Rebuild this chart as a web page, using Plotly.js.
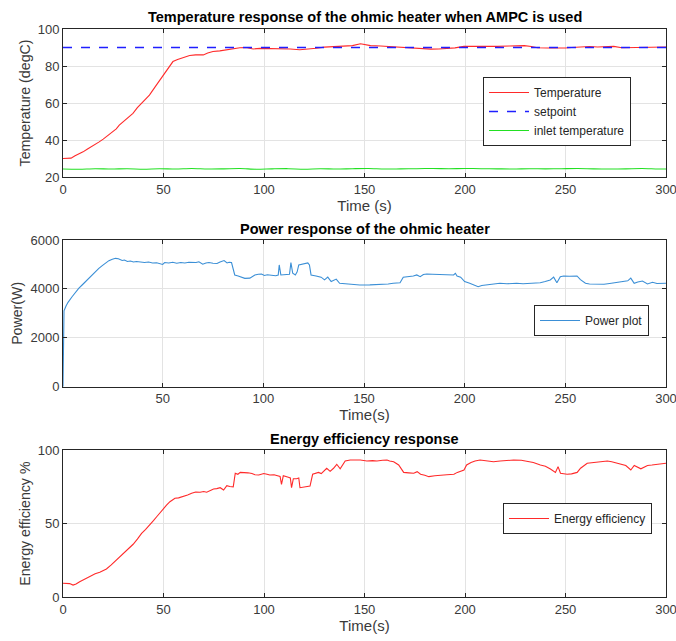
<!DOCTYPE html>
<html>
<head>
<meta charset="utf-8">
<script src="https://cdn.plot.ly/plotly-3.0.1.min.js"></script>
<style>
html,body{margin:0;padding:0;background:#fff;}
#chart{width:676px;height:641px;}
</style>
</head>
<body>
<div id="chart"></div>
<script>
// ---------- Data ----------
// Top panel: temperature response
const temp_t = [0,2,4,6,8,10,12,14,16,18,20,22,24,26.5,28,30,32,34.8,37,40,43,46,48,50,52,54.7,57,60,63,66,69.8,72,74.6,78,81,84.5,88,91,94.6,98,101,105,109.5,113,117.8,121,126,130,134,140,144,148,151,153,158,162,166,172,178,183,187,191,195,199.5,205,210,216,222,229.5,233,236,241,246,250,253,257.5,262,266,270,274,278,283,287,291,296,300];
const temp_v = [30,30,30.2,31.5,32.5,33.6,35,36.2,37.5,39,40.5,42.3,44,46,48,50,51.5,54.4,57.5,61,64.3,69,72,75.2,78,82.4,83.5,84.5,85.7,86,86,87,87.8,88.2,88.8,89.4,89.9,90,89.2,89.5,89.5,89.3,89.1,89.2,88.8,89,89.6,90.2,90.4,90.6,91,92,91.3,91,90.8,90.5,90.2,89.8,89.5,89.1,89.2,89.3,89.8,90.6,90.5,90.6,90.6,90.8,91,90.5,89.9,89.7,89.5,89.7,90,90.3,90.5,90.3,90.4,90.6,89.9,89.9,90,90.1,90.2,90.3];
const setpoint_t = [0,300];
const setpoint_v = [90,90];
const inlet_t = [0,8,16,24,32,40,48,56,64,72,80,88,96,104,112,120,128,136,144,152,160,168,176,184,192,200,208,216,224,232,240,248,256,264,272,280,288,296,300];
const inlet_v = [24.3,24.2,24.5,24.3,24.5,24.2,24.5,24.3,24.6,24.3,24.4,24.6,24.2,24.4,24.5,24.2,24.5,24.3,24.5,24.6,24.3,24.4,24.5,24.6,24.5,24.6,24.5,24.4,24.3,24.5,24.4,24.5,24.6,24.4,24.3,24.4,24.6,24.3,24.3];

// Middle panel: power
const power_t = [0.5,1,2,3,5,7,8.3,10,12,13.3,15,17,18.3,20,22,23.3,25,26.6,28,29.9,31,32.5,34,35.5,37,39,41,43,45,47,48.5,50,51,53,55,57,59,61,63,65,66.6,68,69.9,71.5,73,75,77,78.5,80.5,82,83,84.2,85,85.8,87.5,89,90.8,93.3,95.8,97.5,99.1,100.5,102,104,106.2,107.4,107.9,108.7,111.2,113,113.7,114.6,115.9,116.8,117.6,119.6,121,122.1,122.9,123.7,126.2,128.7,130.4,132,133.7,136.2,137.9,141.2,145,147.9,152.9,156,159.5,162,164.5,167.9,169.5,172,174.5,176.2,177.9,179.5,181.2,184,186.2,189,191.2,194.5,195.4,196.2,198,200,202.5,204.5,206.7,208.5,210.8,214,217.5,221,225.8,229,232.5,235,237.5,240,242.5,244.2,245.8,247.5,249.2,252,255.8,257.5,260,262,264.2,267,269.2,272,274.2,277,279.2,281,282.5,284.2,286,288.3,290.8,293.3,295.5,297.5,300];
const power_w = [0,3100,3300,3450,3680,3900,4025,4160,4330,4430,4570,4720,4840,4950,5080,5155,5210,5250,5230,5160,5180,5120,5140,5100,5120,5090,5080,5100,5060,5070,5040,5000,5080,5060,5090,5050,5080,5060,5090,5070,5080,5110,5010,5060,5080,5050,5040,5100,5160,5060,5090,5080,4800,4570,4530,4480,4430,4440,4570,4600,4610,4550,4580,4560,4540,4570,4980,4570,4570,4600,5075,4640,4570,4700,4980,5030,5040,5060,4980,4570,4530,4480,4370,4480,4300,4400,4230,4200,4170,4160,4165,4180,4170,4200,4230,4250,4480,4500,4530,4570,4500,4590,4610,4600,4590,4580,4570,4570,4640,4530,4480,4300,4230,4170,4090,4140,4160,4180,4230,4210,4230,4210,4230,4240,4250,4300,4365,4480,4250,4500,4530,4520,4530,4380,4230,4200,4190,4195,4190,4220,4250,4260,4300,4330,4440,4230,4280,4320,4200,4270,4220,4230,4230];

// Bottom panel: energy efficiency
const eff_t = [0,3.3,5,6.5,8.3,11,13.3,16,18.3,20,21.6,24,26.6,29,31.6,33,34.9,37,39.1,41,43.2,45,46.6,48.3,49.9,51.5,53.2,55.7,57.5,59.9,62,64,66,68.2,70,71.5,73,74.9,76.5,78.2,79.9,81.5,83,84.7,85.7,87,88.2,90.7,92,94,95.5,97.4,99.9,101.5,102.9,105,107.1,108,108.7,109.6,112.1,113.1,113.7,114.6,116.2,117.3,117.9,121.2,122.9,124.2,127.1,128.5,129.6,131.2,132.9,134.6,136.2,137.9,140.4,142.9,147.9,151.2,154,156.2,159,161.2,162.5,164.5,167,169.5,172,174.5,176.2,177.9,180,182,185,187.9,191,194.5,196.2,199.5,200.8,203,205,207.5,211,214.2,217.5,221,224.2,228,230.8,234,237.5,240,242.5,245,246.3,247.5,250.8,253,255.8,257.5,260.8,264,267.5,270.8,273,275.8,278,280,282.5,284.2,287.5,289,290.8,293,295.8,298,300];
const eff_v = [9.5,9.3,8.3,9,10.6,12.5,14.5,16,17,18,19.2,22,25.3,28.5,31.4,33.5,36,39.5,43.4,46,49,52,54.7,57.5,60.4,62.5,64.9,67.2,67.5,68.3,69.5,70.6,71.5,71.3,71.8,71.3,72.5,73.5,73.8,74.4,72.8,75.8,75.2,75,84.2,83.5,84.8,84.8,84.5,84,83.2,83,84,83.5,83,83.2,82.5,82,76.7,82.5,81.5,81,74.4,80.5,80.5,81,74.4,75,75.5,83.5,84.8,84,85.7,87.6,85.5,87.6,90.3,87.2,92.5,93.2,93.2,92.5,92.8,92.5,93,93.2,92.5,92,89.8,84.8,84.5,84.2,85.3,83.5,82.8,81.9,82.5,83,83.2,83.5,84.8,86.4,89.8,91.5,92.5,93.2,92.5,92,92.5,92.8,93.2,93,92.5,91.5,89.8,89,87.1,84.8,88.7,84.2,83.5,83.8,84.8,87.6,91,91.5,92,92.5,92,91,90.5,89.5,86.4,89.5,87.2,88.5,89.5,89.8,90.3,90.6,91];

// Tick labels
const x_ticks_top = [0,50,100,150,200,250,300];
const x_ticks_mid = [50,100,150,200,250,300];
const y_ticks_temp = [20,40,60,80,100];
const y_ticks_power = [0,2000,4000,6000];
const y_ticks_eff = [0,50,100];

// ---------- Styling ----------
const FONT = '"Liberation Sans", Arial, Helvetica, sans-serif';
const AX = '#262626';
const GRID = '#e3e3e3';
const W = 676, H = 641;
const xdom = [63/W, 666/W];
function ydom(top, bottom){ return [(H-bottom)/H, (H-top)/H]; }

function axisBase(extra){
  return Object.assign({
    showline: true, mirror: 'ticks', linecolor: AX, linewidth: 1,
    ticks: 'inside', ticklen: 4, tickcolor: AX, tickwidth: 1,
    showgrid: true, gridcolor: GRID, gridwidth: 1, zeroline: false,
    tickfont: {family: FONT, size: 13, color: '#3a3a3a'},
    ticklabeloverflow: 'allow',
    fixedrange: true
  }, extra);
}

const redC = '#ff2a2a';
const traces = [
  {x: temp_t, y: temp_v, name: 'Temperature', type: 'scatter', mode: 'lines',
   line: {color: redC, width: 1.1}, xaxis: 'x', yaxis: 'y', legend: 'legend'},
  {x: setpoint_t, y: setpoint_v, name: 'setpoint', type: 'scatter', mode: 'lines',
   line: {color: '#1f1fff', width: 1.3, dash: 'dash'}, xaxis: 'x', yaxis: 'y', legend: 'legend'},
  {x: inlet_t, y: inlet_v, name: 'inlet temperature', type: 'scatter', mode: 'lines', line: {color: '#22e022', width: 1.1, shape: 'spline', smoothing: 0.8},
   xaxis: 'x', yaxis: 'y', legend: 'legend'},
  {x: power_t, y: power_w, name: 'Power plot', type: 'scatter', mode: 'lines',
   line: {color: '#3b8fd6', width: 1.1}, xaxis: 'x2', yaxis: 'y2', legend: 'legend2'},
  {x: eff_t, y: eff_v, name: 'Energy efficiency', type: 'scatter', mode: 'lines',
   line: {color: redC, width: 1.1}, xaxis: 'x3', yaxis: 'y3', legend: 'legend3'}
];

function titleAnn(text, y){
  return {text: '<b>' + text + '</b>', x: (xdom[0]+xdom[1])/2, xref: 'paper', y: (H-y)/H, yref: 'paper',
    xanchor: 'center', yanchor: 'middle', showarrow: false,
    font: {family: FONT, size: 14.5, color: '#000'}};
}

const legendBase = {
  bgcolor: '#fff', bordercolor: AX, borderwidth: 1,
  font: {family: FONT, size: 12, color: '#262626'},
  xanchor: 'left', yanchor: 'top', itemwidth: 40, tracegroupgap: 0,
  itemclick: false, itemdoubleclick: false
};

const titleFont = {family: FONT, size: 15, color: '#3a3a3a'};
const yTitleFont = {family: FONT, size: 14.2, color: '#3a3a3a'};

const layout = {
  width: W, height: H,
  margin: {l: 0, r: 0, t: 0, b: 0},
  paper_bgcolor: '#fff', plot_bgcolor: '#fff',
  showlegend: true,
  xaxis: axisBase({domain: xdom, anchor: 'y', range: [0, 300], tickvals: x_ticks_top,
    title: {text: 'Time (s)', font: titleFont, standoff: 3}}),
  yaxis: axisBase({domain: ydom(29, 177), anchor: 'x', range: [20, 100], tickvals: y_ticks_temp,
    title: {text: 'Temperature (degC)', font: yTitleFont, standoff: 3}}),
  xaxis2: axisBase({domain: xdom, anchor: 'y2', range: [0.5, 300], tickvals: x_ticks_mid,
    title: {text: 'Time(s)', font: titleFont, standoff: 2}}),
  yaxis2: axisBase({domain: ydom(240, 386.7), anchor: 'x2', range: [0, 6000], tickvals: y_ticks_power,
    title: {text: 'Power(W)', font: yTitleFont, standoff: 4}}),
  xaxis3: axisBase({domain: xdom, anchor: 'y3', range: [0, 300], tickvals: x_ticks_top,
    title: {text: 'Time(s)', font: titleFont, standoff: 4}}),
  yaxis3: axisBase({domain: ydom(450, 597.3), anchor: 'x3', range: [0, 100], tickvals: y_ticks_eff,
    title: {text: 'Energy efficiency %', font: yTitleFont, standoff: 3}}),
  legend: Object.assign({}, legendBase, {x: 483/W, y: (H-77)/H}),
  legend2: Object.assign({}, legendBase, {x: 534/W, y: (H-305)/H}),
  legend3: Object.assign({}, legendBase, {x: 503/W, y: (H-503)/H}),
  annotations: [
    titleAnn('Temperature response of the ohmic heater when AMPC is used', 17),
    titleAnn('Power response of the ohmic heater', 229),
    titleAnn('Energy efficiency response', 439)
  ]
};

Plotly.newPlot('chart', traces, layout, {displayModeBar: false, staticPlot: true});
</script>
</body>
</html>
